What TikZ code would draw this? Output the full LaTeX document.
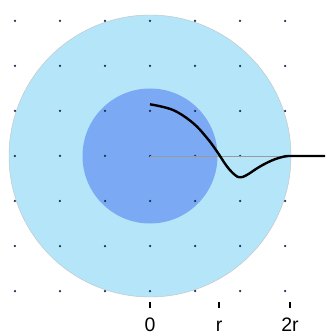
\documentclass[tikz,border=0pt]{standalone}
\usepackage{fontspec}
\setmainfont{Liberation Sans}
\usetikzlibrary{positioning}
\definecolor{skyfill}{HTML}{B5E5F9}
\definecolor{corefill}{HTML}{7CA9F4}
\definecolor{dotnavy}{HTML}{1B2A4E}
\definecolor{axisgray}{HTML}{9A9A9A}

\begin{document}
\begin{tikzpicture}[x=1pt, y=1pt, line cap=butt]

% Frame
\useasboundingbox (-150,-178) rectangle (175,156);

% Outer and inner disks
\fill[skyfill] (0,0) circle (141);
\draw[axisgray!60, line width=0.4pt] (0,0) circle (141);
\fill[corefill] (0,0) circle (67.5);

% Dot grid
\foreach \i in {-3,...,3}
  \foreach \j in {-3,...,3}
    \fill[dotnavy] (45*\i,45*\j) circle (1.25);

% Baseline from the centre
\draw[axisgray, line width=0.7pt] (0,0) -- (140,0);

% Profile curve
\draw[black, line width=2.4pt, line join=round]
  plot[smooth, tension=0.6] coordinates {(0,51.7) (23,46) (43,33) (57,18) (67,4.5)
    (77,-10.5) (85,-19) (90,-21.3) (96.5,-19.2) (110,-10.5) (123,-4) (134,-0.6) (140,0)}
  -- (175,0);

% Axis ticks and labels
\foreach \x/\lab/\nm in {0/0/zero, 69/r/one, 140/2r/two} {
  \draw[black, line width=1.5pt] (\x,-151.5) -- (\x,-145.5);
  \node[anchor=base, inner sep=0pt, font=\fontsize{19.5}{21}\selectfont] (lab\nm) at (\x,-175) {\lab};
}

\end{tikzpicture}
\end{document}
